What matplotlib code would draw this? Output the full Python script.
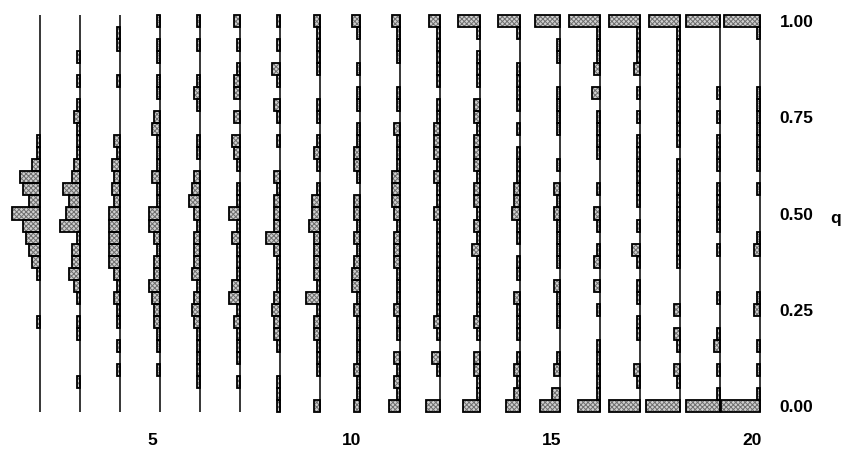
import matplotlib as mpl
import matplotlib.pyplot as plt
import numpy as np

mpl.rcParams['hatch.linewidth'] = 0.7
mpl.rcParams['font.family'] = ['Liberation Sans', 'DejaVu Sans']

# allele frequency classes q = i/32, counts of replicate populations per class
n_classes = 32
g02 = {22: 1, 21: 1, 20: 3, 19: 7, 18: 6, 17: 4, 16: 10, 15: 6, 14: 5, 13: 4, 12: 3, 11: 1, 7: 1}
g03 = {29: 1, 27: 1, 25: 1, 24: 2, 23: 1, 22: 1, 21: 1, 20: 2, 19: 3, 18: 6, 17: 4, 16: 5, 15: 7,
       14: 1, 13: 3, 12: 3, 11: 4, 10: 2, 9: 1, 7: 1, 6: 1, 2: 1}
g04 = {31: 1, 30: 1, 27: 1, 22: 2, 21: 1, 20: 3, 19: 2, 18: 3, 17: 2, 16: 4, 15: 4, 14: 4, 13: 4,
       12: 4, 11: 2, 10: 1, 9: 2, 8: 1, 7: 1, 5: 1, 3: 1}
g05 = {32: 1, 30: 1, 29: 1, 27: 1, 26: 1, 24: 2, 23: 3, 22: 1, 21: 1, 20: 1, 19: 3, 18: 1, 17: 1,
       16: 4, 15: 4, 14: 2, 13: 1, 12: 2, 11: 2, 10: 4, 9: 3, 8: 2, 7: 2, 6: 1, 5: 1, 3: 1}
g06 = {32: 1, 30: 1, 27: 1, 26: 2, 25: 1, 22: 1, 21: 1, 19: 2, 18: 3, 17: 4, 16: 2, 15: 1, 14: 2,
       13: 2, 12: 2, 11: 3, 10: 1, 9: 2, 8: 3, 7: 2, 6: 1, 5: 1, 4: 1, 3: 1, 2: 1}
g07 = {32: 2, 30: 1, 28: 1, 27: 2, 26: 2, 24: 2, 22: 3, 21: 2, 20: 1, 18: 1, 17: 1, 16: 4, 15: 1,
       14: 3, 13: 1, 12: 1, 11: 1, 10: 3, 9: 4, 8: 1, 7: 2, 6: 1, 5: 1, 4: 1, 2: 1}
g08 = {32: 1, 30: 1, 28: 3, 27: 1, 25: 2, 24: 1, 22: 1, 19: 2, 18: 1, 17: 2, 16: 2, 15: 2, 14: 5,
       13: 2, 12: 1, 11: 1, 10: 1, 9: 2, 8: 3, 7: 2, 6: 2, 5: 1, 2: 1, 1: 1, 0: 1}
g09 = {32: 2, 31: 1, 30: 1, 29: 1, 28: 1, 25: 1, 24: 1, 22: 1, 21: 2, 20: 1, 18: 1, 17: 3, 16: 3,
       15: 4, 14: 2, 13: 2, 12: 2, 11: 2, 10: 1, 9: 5, 8: 1, 7: 2, 6: 2, 5: 1, 4: 1, 3: 1, 0: 2}
g10 = {32: 3, 31: 1, 28: 1, 26: 1, 25: 1, 23: 1, 22: 1, 21: 2, 20: 2, 19: 1, 17: 2, 16: 2, 15: 1,
       14: 2, 13: 1, 12: 2, 11: 3, 10: 3, 9: 1, 8: 2, 7: 1, 6: 1, 5: 1, 4: 1, 3: 2, 2: 1, 1: 1, 0: 2}
g11 = {32: 3, 31: 1, 30: 1, 29: 1, 26: 1, 25: 1, 23: 2, 22: 1, 21: 1, 20: 1, 19: 3, 18: 3, 17: 3,
       16: 2, 15: 1, 14: 2, 13: 2, 12: 2, 11: 1, 10: 1, 9: 1, 8: 2, 7: 1, 6: 1, 4: 2, 3: 1, 2: 2,
       1: 1, 0: 4}
g12 = {32: 4, 31: 1, 30: 1, 29: 1, 28: 1, 27: 1, 25: 1, 24: 1, 23: 2, 22: 2, 21: 2, 20: 1, 19: 2,
       18: 1, 17: 1, 16: 2, 15: 1, 14: 1, 13: 1, 12: 1, 11: 1, 10: 1, 9: 1, 8: 1, 7: 2, 6: 1, 4: 3,
       3: 1, 0: 5}
g13 = {32: 8, 31: 1, 29: 1, 28: 1, 27: 1, 25: 2, 24: 2, 23: 1, 22: 2, 21: 2, 20: 2, 19: 1, 18: 2,
       17: 2, 16: 1, 15: 2, 14: 1, 13: 3, 12: 1, 11: 1, 10: 1, 9: 1, 8: 1, 7: 2, 6: 1, 4: 2, 3: 2,
       2: 1, 1: 1, 0: 6}
g14 = {32: 8, 31: 1, 28: 1, 27: 1, 26: 1, 25: 1, 23: 1, 21: 1, 20: 1, 19: 1, 18: 2, 17: 2, 16: 3,
       15: 1, 14: 1, 12: 1, 11: 1, 9: 2, 8: 1, 7: 1, 6: 1, 4: 1, 3: 2, 2: 1, 1: 2, 0: 5}
g15 = {32: 9, 30: 1, 29: 1, 26: 1, 25: 1, 24: 1, 23: 1, 20: 1, 18: 2, 17: 1, 16: 2, 15: 1, 14: 1,
       13: 1, 12: 1, 10: 2, 9: 1, 8: 1, 7: 1, 4: 1, 3: 2, 1: 3, 0: 7}
g16 = {32: 11, 31: 1, 30: 1, 29: 1, 28: 2, 26: 3, 24: 1, 23: 1, 22: 1, 21: 1, 18: 1, 16: 2, 15: 1,
       13: 1, 12: 2, 10: 2, 8: 1, 5: 1, 4: 1, 3: 1, 2: 1, 1: 1, 0: 8}
g17 = {32: 11, 31: 1, 30: 1, 29: 1, 28: 2, 26: 1, 24: 1, 22: 1, 21: 1, 20: 1, 19: 1, 18: 1, 17: 1,
       15: 1, 13: 3, 12: 1, 10: 1, 9: 1, 7: 1, 6: 1, 3: 2, 2: 1, 0: 11}
g18 = {32: 11, 31: 1, 30: 1, 29: 1, 28: 1, 27: 1, 26: 1, 25: 1, 24: 1, 23: 1, 22: 1, 20: 1, 19: 1,
       18: 1, 17: 1, 16: 1, 15: 1, 14: 1, 13: 1, 12: 1, 8: 2, 6: 2, 5: 1, 3: 2, 2: 1, 0: 12}
g19 = {32: 12, 26: 1, 24: 1, 22: 1, 21: 1, 20: 1, 18: 1, 17: 1, 16: 1, 15: 1, 13: 1, 9: 1, 6: 1,
       5: 2, 3: 1, 1: 1, 0: 12}
g20 = {32: 13, 31: 1, 26: 1, 25: 1, 24: 1, 23: 1, 22: 1, 21: 1, 20: 1, 18: 1, 14: 1, 13: 2, 9: 1,
       8: 2, 5: 1, 3: 1, 1: 1, 0: 14}

generations = list(range(2, 21))
columns = [g02, g03, g04, g05, g06, g07, g08, g09, g10, g11, g12, g13, g14, g15, g16, g17,
           g18, g19, g20]
gen_ticks = [5, 10, 15, 20]
q_ticks = [0.0, 0.25, 0.5, 0.75, 1.0]

scale = 0.07          # width of one count in generation units
bin_h = 1.0 / n_classes

fig = plt.figure(figsize=(8.59, 4.53), dpi=100)
ax = fig.add_axes([0, 0.0861, 0.8964, 0.8874])

for gen, counts in zip(generations, columns):
    idx = np.array(sorted(counts))
    q = idx / n_classes
    w = np.array([counts[i] for i in idx]) * scale
    # hatched fill first, then black outline on top
    ax.barh(q, w, left=gen - w, height=bin_h, color='#d0d0d0', edgecolor='#6e6e6e',
            hatch='xxxxxxx', linewidth=0, zorder=2)
    ax.barh(q, w, left=gen - w, height=bin_h, color='none', edgecolor='black',
            linewidth=1.3, zorder=3)
    ax.vlines(gen, -bin_h / 2, 1 + bin_h / 2, color='black', linewidth=1.1, zorder=4)

ax.set_xlim(1, 20.25)
ax.set_ylim(-0.0208, 1.0234)
for s in ax.spines.values():
    s.set_visible(False)

ax.set_xticks([g - 0.2 for g in gen_ticks])
ax.set_xticklabels([str(g) for g in gen_ticks], fontsize=12.5, fontweight='bold')
ax.yaxis.tick_right()
ax.set_yticks(q_ticks)
ax.set_yticklabels(['%.2f' % v for v in q_ticks], fontsize=12.5, fontweight='bold')
ax.tick_params(axis='x', length=0, pad=14)
ax.tick_params(axis='y', length=0, pad=7)

fig.text(836 / 859, 1 - 218 / 453, 'q', ha='center', va='center', fontsize=12.5,
         fontweight='bold')

fig.savefig('out.png', dpi=100)
